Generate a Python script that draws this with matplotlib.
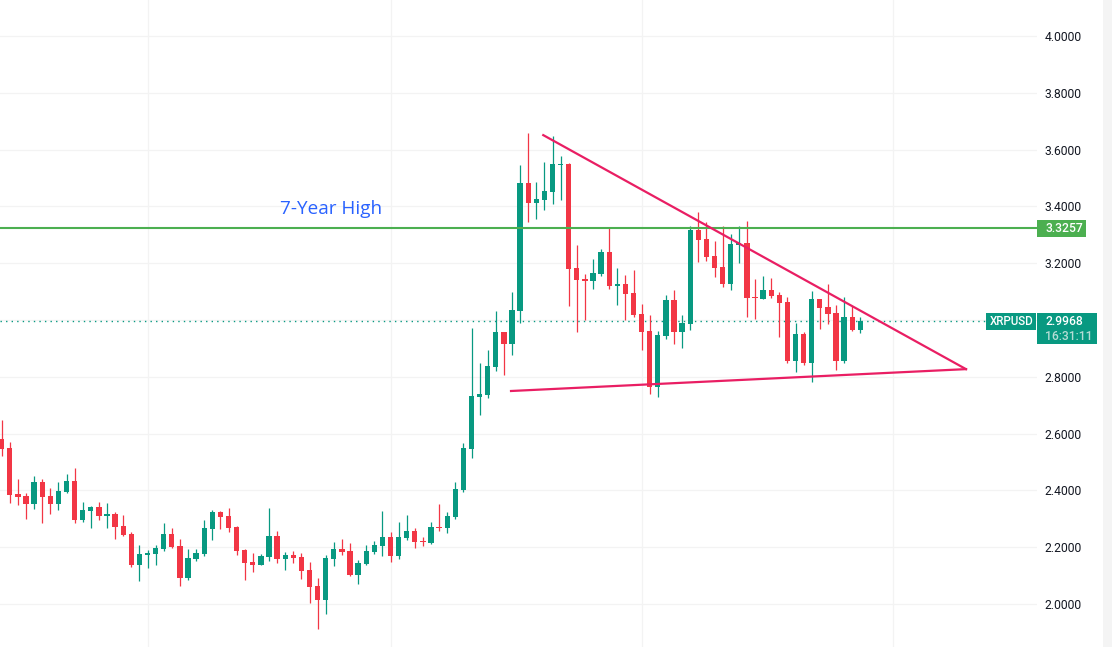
#! /usr/bin python3

import matplotlib
matplotlib.use('Agg')
import matplotlib.pyplot as plt
from matplotlib.patches import Rectangle

# XRPUSD daily candles
opens = [2.581, 2.549, 2.387, 2.380, 2.353, 2.430, 2.380, 2.353, 2.396, 2.433,
         2.297, 2.329, 2.341, 2.311, 2.317, 2.275, 2.246, 2.139, 2.173, 2.177,
         2.195, 2.246, 2.204, 2.093, 2.160, 2.177, 2.265, 2.324, 2.310, 2.271,
         2.190, 2.148, 2.139, 2.167, 2.239, 2.160, 2.173, 2.165, 2.120, 2.063,
         2.015, 2.160, 2.194, 2.187, 2.103, 2.142, 2.183, 2.205, 2.236, 2.170,
         2.232, 2.257, 2.222, 2.215, 2.271, 2.268, 2.306, 2.401, 2.546, 2.729,
         2.736, 2.834, 2.958, 2.915, 3.032, 3.482, 3.412, 3.422, 3.451, 3.546,
         3.549, 3.183, 3.144, 3.137, 3.162, 3.239, 3.120, 3.127, 3.095, 3.021,
         2.961, 2.764, 2.944, 3.070, 2.958, 2.986, 3.317, 3.285, 3.225, 3.186,
         3.127, 3.264, 3.271, 3.081, 3.074, 3.106, 3.088, 3.063, 2.856, 2.951,
         2.849, 3.074, 3.046, 3.025, 2.856, 3.011, 2.965]
highs = [2.648, 2.570, 2.440, 2.391, 2.451, 2.440, 2.408, 2.430, 2.458, 2.479,
         2.359, 2.345, 2.359, 2.356, 2.324, 2.313, 2.254, 2.208, 2.190, 2.208,
         2.285, 2.268, 2.229, 2.194, 2.194, 2.296, 2.331, 2.327, 2.338, 2.275,
         2.194, 2.180, 2.176, 2.338, 2.257, 2.183, 2.187, 2.180, 2.148, 2.092,
         2.173, 2.218, 2.229, 2.215, 2.155, 2.208, 2.222, 2.327, 2.254, 2.289,
         2.313, 2.268, 2.236, 2.289, 2.352, 2.324, 2.430, 2.567, 2.972, 2.849,
         2.894, 3.032, 2.958, 3.099, 3.546, 3.658, 3.486, 3.556, 3.648, 3.577,
         3.553, 3.264, 3.162, 3.215, 3.250, 3.327, 3.183, 3.158, 3.176, 3.056,
         3.018, 2.961, 3.088, 3.106, 3.018, 3.331, 3.380, 3.345, 3.278, 3.331,
         3.303, 3.331, 3.349, 3.144, 3.155, 3.148, 3.099, 3.081, 2.989, 2.958,
         3.102, 3.074, 3.127, 3.053, 3.081, 3.049, 3.011]
lows = [2.522, 2.357, 2.350, 2.300, 2.336, 2.286, 2.318, 2.332, 2.392, 2.286,
        2.290, 2.269, 2.297, 2.269, 2.230, 2.241, 2.132, 2.082, 2.128, 2.139,
        2.188, 2.197, 2.065, 2.086, 2.153, 2.170, 2.226, 2.265, 2.255, 2.174,
        2.086, 2.114, 2.139, 2.153, 2.146, 2.121, 2.146, 2.089, 2.005, 1.913,
        1.966, 2.135, 2.174, 2.100, 2.072, 2.139, 2.176, 2.170, 2.149, 2.160,
        2.225, 2.197, 2.204, 2.211, 2.257, 2.250, 2.299, 2.394, 2.514, 2.665,
        2.725, 2.820, 2.806, 2.877, 2.989, 3.345, 3.356, 3.387, 3.408, 3.422,
        3.049, 2.958, 3.000, 3.109, 3.155, 3.109, 3.053, 3.000, 3.011, 2.894,
        2.739, 2.729, 2.933, 2.915, 2.901, 2.965, 3.204, 3.208, 3.151, 3.116,
        3.106, 3.201, 3.011, 3.003, 3.074, 3.077, 2.940, 2.849, 2.817, 2.842,
        2.782, 2.968, 2.986, 2.824, 2.849, 2.961, 2.954]
closes = [2.547, 2.385, 2.378, 2.353, 2.430, 2.378, 2.353, 2.398, 2.433, 2.297,
          2.331, 2.341, 2.311, 2.317, 2.272, 2.244, 2.139, 2.176, 2.180, 2.197,
          2.246, 2.201, 2.093, 2.162, 2.180, 2.268, 2.324, 2.307, 2.269, 2.188,
          2.146, 2.139, 2.169, 2.239, 2.160, 2.173, 2.163, 2.117, 2.061, 2.015,
          2.162, 2.194, 2.183, 2.103, 2.144, 2.187, 2.208, 2.236, 2.170, 2.236,
          2.257, 2.218, 2.218, 2.271, 2.268, 2.310, 2.405, 2.549, 2.732, 2.739,
          2.838, 2.958, 2.915, 3.035, 3.482, 3.412, 3.426, 3.454, 3.549, 3.549,
          3.180, 3.141, 3.137, 3.165, 3.239, 3.120, 3.127, 3.092, 3.018, 2.958,
          2.764, 2.947, 3.070, 2.958, 2.989, 3.317, 3.282, 3.222, 3.183, 3.127,
          3.268, 3.271, 3.077, 3.077, 3.106, 3.084, 3.060, 2.856, 2.951, 2.849,
          3.074, 3.042, 3.021, 2.856, 3.011, 2.965, 2.997]

price_ticks = [2.0, 2.2, 2.4, 2.6, 2.8, 3.0, 3.2, 3.4, 3.6, 3.8, 4.0]
month_starts = [18, 48, 79, 110]

high_level = 3.3257
last_price = 2.9968
upper_trend_x = [66.86, 119.05]
upper_trend_y = [3.651, 2.827]
lower_trend_x = [62.88, 119.05]
lower_trend_y = [2.750, 2.827]

RED = '#F23645'
GREEN = '#089981'
LEVEL = '#4CAF50'
PINK = '#E91E63'
GRID = '#F3F3F3'

plt.rcParams['font.family'] = ['Roboto', 'DejaVu Sans']

W, H = 1112, 647
fig = plt.figure(figsize=(W / 100, H / 100), dpi=100, facecolor='white')
ax = fig.add_axes([0, 0, 1037 / W, 1])

# candle 0 sits at 1.7px, 8.1px between candles; price 0.2 is 56.8px
ax.set_xlim(-1.7 / 8.1, (1037 - 1.7) / 8.1)
ax.set_ylim(2 + (604 - 647) / 284, 2 + 604 / 284)

for s in ax.spines.values():
    s.set_visible(False)

ax.yaxis.tick_right()
ax.set_yticks(price_ticks)
ax.set_yticklabels(['{0:.4f}'.format(p) for p in price_ticks], fontsize=8.7, color='#131722')
ax.set_xticks(month_starts)
ax.set_xticklabels([])
ax.tick_params(length=0, pad=5.5)
ax.grid(True, color=GRID, linewidth=0.9)
ax.set_axisbelow(True)

for i in range(len(opens)):
    col = GREEN if closes[i] >= opens[i] else RED
    ax.vlines(i, lows[i], highs[i], color=col, linewidth=0.9, zorder=3)
    bottom = min(opens[i], closes[i])
    height = max(abs(closes[i] - opens[i]), 0.004)
    ax.bar(i, height, width=0.66, bottom=bottom, color=col, linewidth=0, zorder=4)

ax.axhline(last_price, color=GREEN, linewidth=1, linestyle=(0, (1, 3)), zorder=2)
ax.axhline(high_level, color=LEVEL, linewidth=1.5, zorder=5)
ax.plot(upper_trend_x, upper_trend_y, color=PINK, linewidth=1.6, zorder=6)
ax.plot(lower_trend_x, lower_trend_y, color=PINK, linewidth=1.6, zorder=6)

ax.text(34.36, 3.392, '7-Year High', color='#2962FF', fontsize=13.6, fontweight='medium',
        family=['Open Sans', 'DejaVu Sans'], ha='left', va='center')


def box(x0, y0, x1, y1, col):
    # pixel box, y measured from the top of the image
    fig.add_artist(Rectangle((x0 / W, 1 - y1 / H), (x1 - x0) / W, (y1 - y0) / H,
                             transform=fig.transFigure, facecolor=col, edgecolor='none'))


def label(x, y, s, col='white', size=8.7, **kw):
    fig.text(x / W, 1 - y / H, s, color=col, fontsize=size, va='center', ha='left', **kw)


box(1103, 0, 1112, 647, '#F4F4F4')
box(1037, 220, 1086, 237, LEVEL)
box(986, 313, 1036, 330, GREEN)
box(1037, 313, 1097, 344, GREEN)
label(1045, 228.5, '3.3257', fontweight='medium')
label(990, 321.5, 'XRPUSD', size=8.3, fontweight='medium')
label(1045, 321.5, '2.9968', fontweight='medium')
label(1045, 336, '16:31:11', col='#B5DDD5', fontweight='medium')

plt.savefig('out.png', dpi=100)
print("Saved to out.png")
